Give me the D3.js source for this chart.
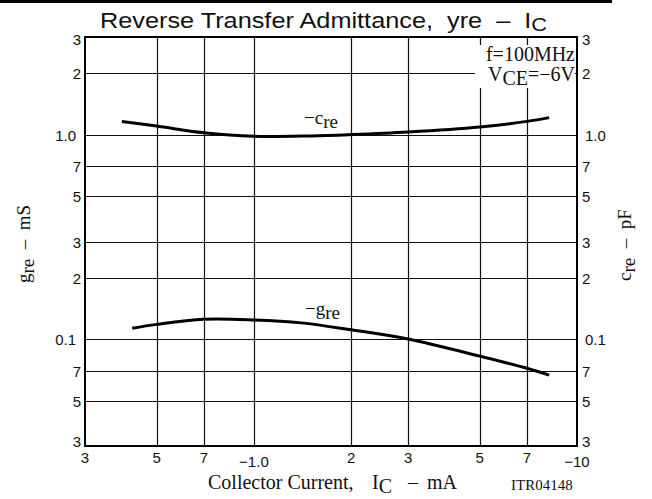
<!DOCTYPE html>
<html>
<head>
<meta charset="utf-8">
<script src="https://cdnjs.cloudflare.com/ajax/libs/d3/7.8.5/d3.min.js"></script>
<style>
  body { margin: 0; background: #fff; }
  svg { display: block; }
  text { white-space: pre; }
  .sans { font-family: "Liberation Sans", Arial, sans-serif; }
  .serif { font-family: "Liberation Serif", "Times New Roman", serif; }
</style>
</head>
<body>
<svg id="chart" width="652" height="499"></svg>
<script>
// collector current (mA, magnitude) and values
const creCurrent = [0.39, 0.5, 0.7, 1.0, 1.5, 2, 3, 5, 7, 8.2];
const creValue = [1.16, 1.10, 1.02, 0.98, 0.985, 1.0, 1.03, 1.09, 1.16, 1.21];
const greCurrent = [0.42, 0.5, 0.7, 1.0, 1.4, 2, 3, 5, 7, 8.2];
const greValue = [0.113, 0.118, 0.125, 0.124, 0.12, 0.111, 0.1, 0.0825, 0.072, 0.0666];

const xTicks = [0.3, 0.5, 0.7, 1, 2, 3, 5, 7, 10];
const xTickLabels = ["3", "5", "7", "\u22121.0", "2", "3", "5", "7", "\u221210"];
const yTicks = [0.03, 0.05, 0.07, 0.1, 0.2, 0.3, 0.5, 0.7, 1, 2, 3];
const yTickLabels = ["3", "5", "7", "0.1", "2", "3", "5", "7", "1.0", "2", "3"];

const svg = d3.select("#chart");
const marge = {top: 37, bottom: 446, left: 85, right: 577};

const x = d3.scaleLog().domain([0.3, 10]).range([marge.left, marge.right]);
const y = d3.scaleLog().domain([0.03, 3]).range([marge.bottom, marge.top]);

// heavy rule across the top
svg.append("rect").attr("x", 0).attr("y", 0).attr("width", 612).attr("height", 3).attr("fill", "#000");

// title
const title = svg.append("text").attr("class", "sans")
    .attr("transform", "translate(100,28) scale(1.15,1)")
    .attr("font-size", 22).attr("fill", "#111");
title.append("tspan").text("Reverse Transfer Admittance,  yre  \u2013  I");
title.append("tspan").attr("font-size", 19).attr("dy", 3).text("C");

// grid
const g = svg.append("g");
g.selectAll("line.h").data(yTicks.slice(1, -1)).join("line")
    .attr("x1", marge.left).attr("x2", marge.right)
    .attr("y1", d => Math.round(y(d)) + 0.5).attr("y2", d => Math.round(y(d)) + 0.5)
    .attr("stroke", "#111").attr("stroke-width", 1.2);
g.selectAll("line.v").data(xTicks.slice(1, -1)).join("line")
    .attr("y1", marge.top).attr("y2", marge.bottom)
    .attr("x1", d => Math.round(x(d)) + 0.5).attr("x2", d => Math.round(x(d)) + 0.5)
    .attr("stroke", "#111").attr("stroke-width", 1.2);

// frame
g.append("rect")
    .attr("x", marge.left).attr("y", marge.top)
    .attr("width", marge.right - marge.left).attr("height", marge.bottom - marge.top)
    .attr("fill", "none").attr("stroke", "#000").attr("stroke-width", 2);

// y tick labels, both sides
const yLabelDy = d => d === 0.03 ? 1 : (d === 3 ? 8 : 6);
svg.append("g").selectAll("text").data(yTicks).join("text")
    .attr("class", "sans").attr("font-size", 15).attr("fill", "#111")
    .attr("x", (d, i) => yTickLabels[i].length > 1 ? 76 : 81)
    .attr("y", d => y(d) + yLabelDy(d))
    .attr("text-anchor", "end")
    .text((d, i) => yTickLabels[i]);
svg.append("g").selectAll("text").data(yTicks).join("text")
    .attr("class", "sans").attr("font-size", 15).attr("fill", "#111")
    .attr("x", (d, i) => marge.right + (yTickLabels[i].length > 1 ? 8 : 5))
    .attr("y", d => y(d) + yLabelDy(d))
    .text((d, i) => yTickLabels[i]);

// x tick labels
svg.append("g").selectAll("text").data(xTicks).join("text")
    .attr("class", "sans").attr("font-size", 15).attr("fill", "#111")
    .attr("x", d => x(d))
    .attr("y", (d, i) => xTickLabels[i][0] === "\u2212" ? 467 : 463)
    .attr("text-anchor", "middle")
    .text((d, i) => xTickLabels[i]);

// curves
const line = d3.line()
    .x(d => x(d[0])).y(d => y(d[1]))
    .curve(d3.curveCatmullRom.alpha(0.5));
svg.append("path").datum(d3.zip(creCurrent, creValue))
    .attr("d", line).attr("fill", "none").attr("stroke", "#000").attr("stroke-width", 3);
svg.append("path").datum(d3.zip(greCurrent, greValue))
    .attr("d", line).attr("fill", "none").attr("stroke", "#000").attr("stroke-width", 3);

// curve labels
function subLabel(px, py, main, sub, size) {
    const t = svg.append("text").attr("class", "serif")
        .attr("x", px).attr("y", py).attr("font-size", size).attr("fill", "#111");
    t.append("tspan").text(main);
    t.append("tspan").attr("dy", 4).text(sub);
    return t;
}
subLabel(304, 124, "\u2212c", "re", 19);
subLabel(305, 315, "\u2212g", "re", 19);

// conditions box
svg.append("rect").attr("x", 475).attr("y", 45).attr("width", 100).attr("height", 43).attr("fill", "#fff");
svg.append("text").attr("class", "serif").attr("font-size", 20).attr("fill", "#111")
    .attr("x", 575).attr("y", 61).attr("text-anchor", "end").text("f=100MHz");
const vce = svg.append("text").attr("class", "serif").attr("font-size", 20).attr("fill", "#111")
    .attr("x", 575).attr("y", 81).attr("text-anchor", "end");
vce.append("tspan").text("V");
vce.append("tspan").attr("dy", 4).text("CE");
vce.append("tspan").attr("dy", -4).text("=\u22126V");

// axis titles
const yl = svg.append("text").attr("class", "serif").attr("font-size", 19).attr("fill", "#111")
    .attr("transform", "translate(30,244) rotate(-90)").attr("text-anchor", "middle");
yl.append("tspan").text("g");
yl.append("tspan").attr("dy", 4).text("re");
yl.append("tspan").attr("dy", -4).text("  \u2013  mS");

const yr = svg.append("text").attr("class", "serif").attr("font-size", 19).attr("fill", "#111")
    .attr("transform", "translate(631,245) rotate(-90)").attr("text-anchor", "middle");
yr.append("tspan").text("c");
yr.append("tspan").attr("dy", 4).text("re");
yr.append("tspan").attr("dy", -4).text("  \u2013  pF");

const xl = svg.append("g").attr("class", "serif").attr("font-size", 20).attr("fill", "#111");
xl.append("text").attr("x", 208).attr("y", 489).text("Collector Current,");
const ic = xl.append("text").attr("x", 372).attr("y", 489);
ic.append("tspan").text("I");
ic.append("tspan").attr("dy", 4).text("C");
xl.append("text").attr("x", 408).attr("y", 489).text("\u2013");
xl.append("text").attr("x", 427).attr("y", 489).text("mA");

svg.append("text").attr("class", "serif").attr("font-size", 15).attr("fill", "#111")
    .attr("x", 511).attr("y", 490).text("ITR04148");
</script>
</body>
</html>
